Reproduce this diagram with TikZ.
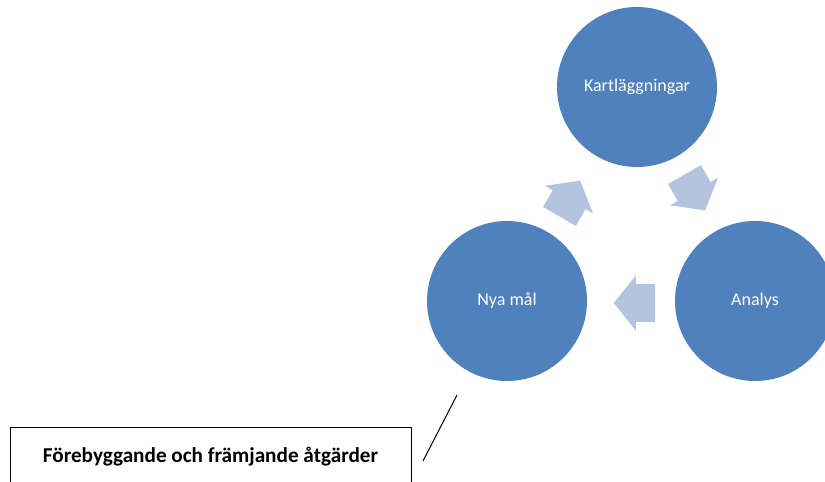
\documentclass[tikz,border=0pt]{standalone}
\usepackage{fontspec}
\setmainfont{Carlito}
\usetikzlibrary{positioning,shapes.arrows}
\definecolor{phaseblue}{HTML}{4F81BD}
\definecolor{flowblue}{HTML}{B4C3DE}
\tikzstyle{phase} = [circle, fill=phaseblue, text=white, minimum size=120pt,
                     inner sep=0pt, font=\fontsize{13.5}{16}\selectfont]
\tikzstyle{flow}  = [single arrow, fill=flowblue, minimum height=31pt, minimum width=41pt,
                     text height=14pt, text depth=14pt, text width=0pt,
                     single arrow head extend=6.5pt, single arrow tip angle=103, inner sep=0pt]
\tikzstyle{note}  = [rectangle, draw=black, line width=0.75pt, anchor=north, minimum width=300.75pt,
                     inner ysep=0pt, text height=26pt, text depth=40pt,
                     font=\fontsize{15.9}{18}\bfseries]

\begin{document}
\begin{tikzpicture}[x=0.75pt, y=-0.75pt]
		\useasboundingbox (0,0) rectangle (825,482);
		\clip (0,0) rectangle (825,482);

		% cycle
		\node[phase] (kart)  at (637,87)  {Kartläggningar};
		\node[phase] (analys) at (755,301) {Analys};
		\node[phase] (mal)   at (507,301) {Nya mål};

		\node[flow, rotate=60]  (kart-in)   at (566,205) {};
		\node[flow, rotate=-60] (analys-in) at (691,186) {};
		\node[flow, rotate=180] (mal-in)    at (642,303) {};

		% note
		\node[note] (atgarder) at (210.5,427) {Förebyggande och främjande åtgärder};
		\coordinate (pointer-top) at (457,395);
		\coordinate (pointer-end) at (423,461);
		\draw[line width=0.75pt] (pointer-top) -- (pointer-end);
	\end{tikzpicture}
\end{document}
